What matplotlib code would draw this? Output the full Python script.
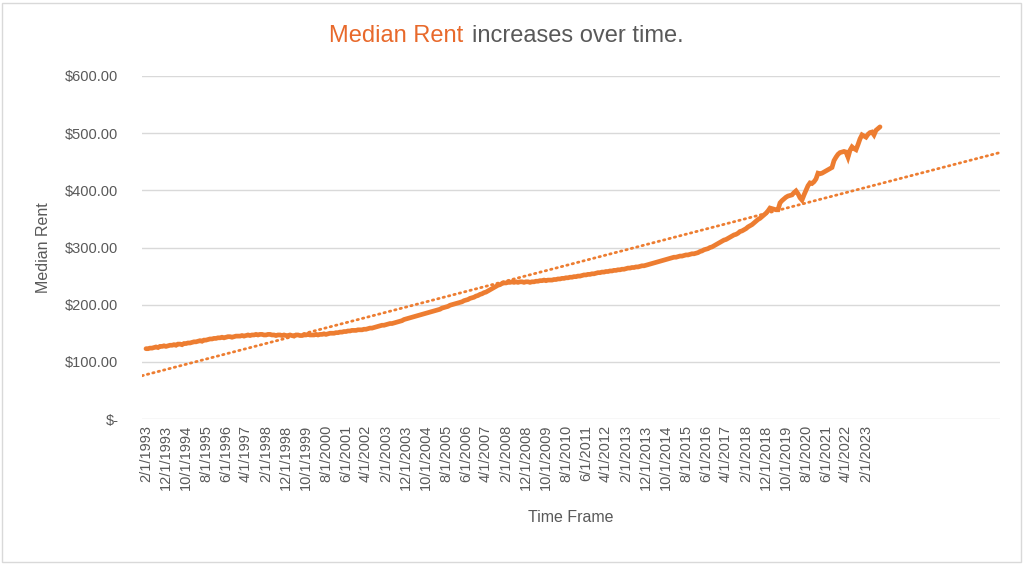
import numpy as np
import pandas as pd
import matplotlib.pyplot as plt
from matplotlib.patches import Rectangle

# monthly median rent, Feb 1993 .. Sep 2023
rent_1993 = [123, 123, 124, 124, 125, 126, 125, 127, 127, 128, 127]
rent_rows = [
    [128, 129, 129, 130, 129, 131, 131, 130, 132, 132, 133, 133],  # 1994
    [134, 135, 135, 136, 137, 136, 138, 138, 139, 140, 140, 141],  # 1995
    [141, 142, 142, 143, 142, 143, 144, 144, 143, 144, 145, 145],  # 1996
    [145, 146, 145, 146, 147, 146, 147, 147, 148, 147, 148, 148],  # 1997
    [147, 147, 148, 148, 147, 147, 146, 147, 147, 146, 147, 146],  # 1998
    [146, 147, 146, 145, 147, 147, 146, 146, 147, 147, 148, 147],  # 1999
    [147, 147, 148, 147, 148, 148, 149, 148, 149, 150, 150, 150],  # 2000
    [151, 151, 152, 152, 153, 153, 154, 154, 155, 155, 155, 156],  # 2001
    [156, 156, 157, 157, 158, 159, 159, 160, 161, 162, 163, 164],  # 2002
    [164, 165, 166, 167, 167, 168, 169, 170, 171, 172, 174, 175],  # 2003
    [176, 177, 178, 179, 180, 181, 182, 183, 184, 185, 186, 187],  # 2004
    [188, 189, 190, 191, 192, 194, 195, 196, 197, 199, 200, 201],  # 2005
    [202, 203, 204, 205, 207, 208, 209, 211, 212, 213, 215, 216],  # 2006
    [218, 219, 221, 222, 224, 226, 228, 230, 232, 234, 235, 237],  # 2007
    [238, 238, 239, 239, 240, 239, 240, 239, 240, 240, 239, 240],  # 2008
    [240, 239, 240, 240, 241, 241, 242, 242, 243, 242, 243, 243],  # 2009
    [243, 244, 244, 245, 245, 246, 246, 247, 247, 248, 248, 249],  # 2010
    [249, 250, 250, 251, 252, 252, 253, 253, 254, 254, 255, 256],  # 2011
    [256, 257, 257, 258, 258, 259, 259, 260, 260, 261, 261, 262],  # 2012
    [262, 263, 264, 264, 265, 265, 266, 266, 267, 268, 268, 269],  # 2013
    [270, 271, 272, 273, 274, 275, 276, 277, 278, 279, 280, 281],  # 2014
    [282, 283, 283, 284, 285, 285, 286, 287, 287, 288, 289, 289],  # 2015
    [290, 291, 293, 294, 296, 297, 298, 300, 301, 303, 305, 307],  # 2016
    [309, 311, 313, 314, 316, 318, 320, 322, 323, 325, 328, 329],  # 2017
    [331, 333, 336, 338, 340, 343, 346, 349, 351, 354, 357, 360],  # 2018
    [364, 369, 368, 367, 366, 366, 378, 382, 385, 388, 390, 391],  # 2019
    [392, 396, 399, 394, 387, 383, 392, 400, 408, 413, 412, 415],  # 2020
    [420, 430, 429, 430, 432, 434, 436, 438, 440, 452, 458, 463],  # 2021
    [466, 467, 468, 467, 458, 470, 476, 473, 471, 480, 490, 497],  # 2022
]
rent_2023 = [495, 493, 498, 501, 502, 497, 505, 508, 511]

rent = np.array(rent_1993 + sum(rent_rows, []) + rent_2023, dtype=float)
dates = pd.date_range("1993-02-01", periods=len(rent), freq="MS")
labels = [f"{d.month}/{d.day}/{d.year}" for d in dates]
forecast = 60  # trendline forward periods

orange = "#ED7D31"
gray = "#595959"
plt.rcParams["font.family"] = ["Liberation Sans Narrow", "Liberation Sans", "DejaVu Sans"]

fig = plt.figure(figsize=(10.24, 5.64), dpi=100)
fig.patches.append(Rectangle((0.002, 0.004), 0.995, 0.991, transform=fig.transFigure,
                             fill=False, edgecolor="#D9D9D9", linewidth=1))
ax = fig.add_axes([142 / 1024, 1 - 419 / 564, 858 / 1024, 343 / 564])

x = np.arange(len(rent))
ax.plot(x, rent, color=orange, linewidth=3.4, solid_capstyle="round",
        solid_joinstyle="miter", zorder=3)

# linear trendline, forecast forward
coef = np.polyfit(x, rent, 1)
xt = np.arange(-2, len(rent) + forecast)
ax.plot(xt, np.polyval(coef, xt), color=orange, linewidth=2.0,
        linestyle=(0, (0.5, 1.5)), dash_capstyle="round", zorder=2)

ax.set_ylim(0, 600)
ax.set_xlim(-2, len(rent) + forecast - 1)
ax.set_yticks(np.arange(0, 601, 100))
ax.set_yticklabels(["$-"] + [f"${v:.2f}" for v in np.arange(100, 601, 100)])
ticks = x[::10]
ax.set_xticks(ticks)
ax.set_xticklabels([labels[i] for i in ticks], rotation=90, va="top")
ax.tick_params(axis="both", length=0, colors=gray, labelsize=10.5)
ax.tick_params(axis="y", pad=17)
ax.tick_params(axis="x", pad=4)
ax.grid(axis="y", color="#D9D9D9", linewidth=1)
ax.set_axisbelow(True)
for s in ax.spines.values():
    s.set_visible(False)

ax.set_ylabel("Median Rent", color=gray, fontsize=11.5, labelpad=10)
ax.set_xlabel("Time Frame", color=gray, fontsize=11.5, labelpad=14)

fig.text(463 / 1024, 1 - 36 / 564, "Median Rent", color="#E8692B", fontsize=17,
         ha="right", va="center")
fig.text(472 / 1024, 1 - 36 / 564, "increases over time.", color=gray, fontsize=17,
         ha="left", va="center")

fig.savefig("out.png", dpi=100)
